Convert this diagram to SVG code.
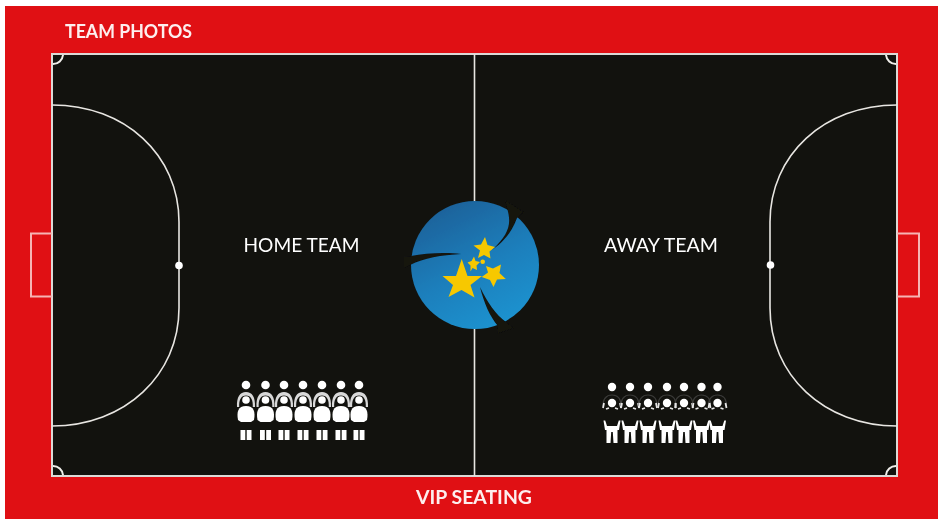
<svg xmlns="http://www.w3.org/2000/svg" width="938" height="519" viewBox="0 0 938 519">
<style>
.ln{fill:none;stroke:#e8e6e2;stroke-width:1.6}
.cr{fill:none;stroke:#f0eeea;stroke-width:2}
.bd{fill:none;stroke:#dcd9d6;stroke-width:2}
.gl{fill:none;stroke:#f6b4b4;stroke-width:2}
.t{font-family:"Lato","Liberation Sans",sans-serif;fill:#fff}
.b{font-weight:700;fill:#fdeeee}
.w{fill:#fff}
.st{fill:#f7c800}
.cut{fill:#12120e}
</style>
<defs>
<linearGradient id="g" x1="0.2" y1="0" x2="0.7" y2="1"><stop offset="0" stop-color="#1a5f97"/><stop offset="0.55" stop-color="#1a7fbc"/><stop offset="1" stop-color="#1e93d0"/></linearGradient>
<filter id="s" x="-10%" y="-10%" width="120%" height="120%"><feGaussianBlur stdDeviation="0.7"/></filter>
<g id="h">
<circle cx="0" cy="-25" r="4.300" class="w"/>
<path d="M-9 -3 C-9.500 -13 -6 -18 0 -18 C6 -18 9.500 -13 9 -3 L6.800 -3 C7.200 -10 5 -14.500 0 -14.500 C-5 -14.500 -7.200 -10 -6.800 -3Z" fill="#d8d8d8"/>
<circle cx="0" cy="-10" r="3.800" class="w"/>
<path d="M-8 10 C-9.500 2 -8 -4 0 -4 C8 -4 9.500 2 8 10 L5 12 L-5 12Z" class="w"/>
<rect x="-5.500" y="20" width="4.800" height="10" class="w"/><rect x="0.700" y="20" width="4.800" height="10" class="w"/>
</g>
<g id="a">
<circle cx="0" cy="-24" r="4.200" class="w"/>
<path d="M-9 -5 C-9 -13 -5 -16 0 -16 C5 -16 9 -13 9 -5" fill="none" stroke="#3a3a38" stroke-width="1.200"/>
<circle cx="0" cy="-8" r="4.200" class="w"/>
<path d="M-9 -3 L-8 -8 M9 -3 L8 -8 M-6 -2 L-3 -3 M6 -2 L3 -3" fill="none" stroke="#e6e6e6" stroke-width="1.800"/>
<path d="M-8.500 9.500 L-6.800 9.500 L-5 15 L5 15 L6.800 9.500 L8.500 9.500 L7 19 L5.500 19 L5.500 32 L1.500 32 L0.800 21 L-0.800 21 L-1.500 32 L-5.500 32 L-5.500 19 L-7 19Z" class="w"/>
</g>
</defs>
<rect width="938" height="519" fill="#fff"/>
<rect x="5" y="6" width="933" height="513" fill="#e01014"/>
<g id="pitch">
<rect x="52" y="54" width="845" height="422" fill="#12120e"/>
<g filter="url(#s)">
<rect x="52" y="54" width="845" height="422" class="bd"/>
<path d="M474.500 54V476" class="ln"/>
<path d="M52 105 C125 105 179 155 179 222 V308 C179 375 125 426 52 426" class="ln"/>
<path d="M897 105 C824 105 770 155 770 222 V308 C770 375 824 426 897 426" class="ln"/>
<circle cx="179" cy="265.500" r="3.800" class="w"/>
<circle cx="770.500" cy="265" r="3.800" class="w"/>
<path d="M52 233.500H31V296.500H52" class="gl"/>
<path d="M897 233.500H919V296.500H897" class="gl"/>
<path d="M53 64 A10 10 0 0 0 63 55" class="cr"/>
<path d="M886 55 A10 10 0 0 0 896 64" class="cr"/>
<path d="M53 466 A10 10 0 0 1 63 475" class="cr"/>
<path d="M886 475 A10 10 0 0 1 896 466" class="cr"/>
</g>
</g>
<g id="logo" filter="url(#s)">
<circle cx="475" cy="265" r="64" fill="url(#g)"/>
<path class="cut" d="M505 200 L507 208 C512 224 509 234 492 250 C505 241 512 231 517 218 L524 212Z"/>
<path class="cut" d="M404 256.500 L411 256 C426 253 446 252 461 254 C441 255 424 258 410 265 L404 268Z"/>
<path class="cut" d="M480 287 C484 303 490 317 498 326 L497 334 L514 328 L506 322 C496 315 487 302 480 287Z"/>
<path class="st" d="M461.700 259 L467.500 276 L482 276 L470.500 285 L474.500 297.500 L461.500 290 L448.500 297 L453 285 L442.500 276 L456 276Z"/>
<path class="st" d="M485 237 L487.500 245 L495 247 L489.500 251.500 L490.500 258.500 L484 255 L478 258 L480 250.500 L473.500 245.500 L481 244.500Z"/>
<path class="st" d="M501 264.500 L499.500 273 L505.800 279 L497 279.500 L493.500 287 L490 280 L481.700 277 L488 272.500 L486 266 L493 268.500Z"/>
<path class="st" d="M474 256.500 L475.500 261 L480 262 L476.500 265.500 L477 270 L472.500 268 L470.500 271.500 L470.500 265.500 L467.500 262.500 L471.500 261Z"/>
<circle cx="482.700" cy="261.700" r="2.300" class="st"/>
</g>
<g id="labels" filter="url(#s)">
<text x="65" y="37.500" class="t b" font-size="18.500" textLength="127" lengthAdjust="spacingAndGlyphs">TEAM PHOTOS</text>
<text x="416" y="503.500" class="t b" font-size="18.500" textLength="116" lengthAdjust="spacingAndGlyphs">VIP SEATING</text>
<text x="243.500" y="251.500" class="t" font-size="18.500" textLength="116" lengthAdjust="spacingAndGlyphs">HOME TEAM</text>
<text x="604" y="251.500" class="t" font-size="18.500" textLength="114" lengthAdjust="spacingAndGlyphs">AWAY TEAM</text>
</g>
<g id="home-team" filter="url(#s)">
<use href="#h" x="246" y="410"/><use href="#h" x="265.500" y="410"/><use href="#h" x="284" y="410"/><use href="#h" x="303" y="410"/><use href="#h" x="322" y="410"/><use href="#h" x="341" y="410"/><use href="#h" x="359" y="410"/>
</g>
<g id="away-team" filter="url(#s)">
<use href="#a" x="612" y="411"/><use href="#a" x="630" y="411"/><use href="#a" x="648" y="411"/><use href="#a" x="667" y="411"/><use href="#a" x="684" y="411"/><use href="#a" x="701.500" y="411"/><use href="#a" x="717.500" y="411"/>
</g>
</svg>
